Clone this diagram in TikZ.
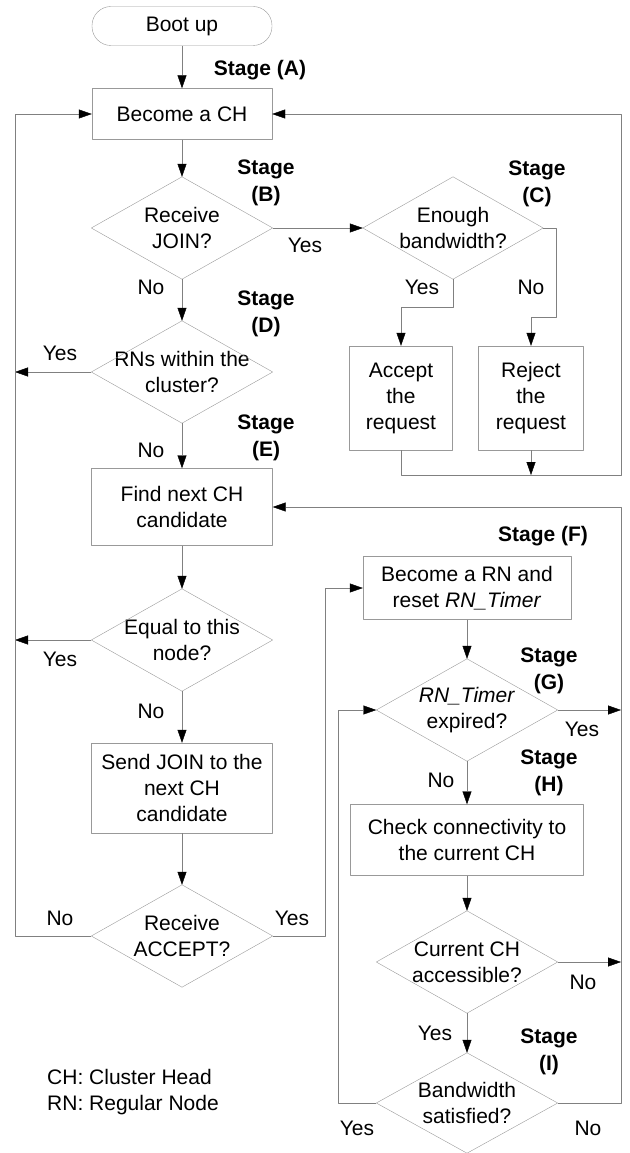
\documentclass[tikz,border=0pt]{standalone}
\usepackage{fontspec}
\setmainfont{Liberation Sans}
\usetikzlibrary{arrows.meta}
\begin{document}
\begin{tikzpicture}[x=1pt,y=-1pt,line join=round,
  every node/.style={font=\fontsize{21}{26}\selectfont,align=center,inner sep=0pt},
  box/.style={draw=black!40},
  dec/.style={minimum width=181,minimum height=102},
  stage/.style={font=\fontsize{21}{27}\selectfont\bfseries},
  line/.style={draw=black!50},
  flow/.style={line,-{Triangle[length=13pt,width=9pt,color=black]}}]
  \useasboundingbox (0,0) rectangle (629,1153);
  % left column
  \node[box,rounded corners=19pt,minimum width=180,minimum height=39] (boot) at (182,26) {Boot up};
  \node[box,minimum width=180,minimum height=51] (ch) at (182,114) {Become a CH};
  \node[dec] (join) at (182,228) {Receive\\JOIN?};
  \node[dec] (rns) at (182,372) {RNs within the\\cluster?};
  \node[box,minimum width=181,minimum height=77] (find) at (182,507) {Find next CH\\candidate};
  \node[dec] (equal) at (182,640) {Equal to this\\node?};
  \node[box,minimum width=181,minimum height=90] (send) at (182,788) {Send JOIN to the\\next CH\\candidate};
  \node[dec] (recv) at (182,936) {Receive\\ACCEPT?};
  % right column
  \node[dec,minimum width=180] (bw) at (453,228) {Enough\\bandwidth?};
  \node[box,minimum width=103,minimum height=104] (acc) at (401,398) {Accept\\the\\request};
  \node[box,minimum width=105,minimum height=104] (rej) at (531,398) {Reject\\the\\request};
  \node[box,minimum width=208,minimum height=63] (rn) at (467,588) {Become a RN and\\reset \textit{RN\_Timer}};
  \node[dec] (timer) at (467,710) {\textit{RN\_Timer}\\expired?};
  \node[box,minimum width=233,minimum height=71] (check) at (467,840) {Check connectivity to\\the current CH};
  \node[dec] (access) at (467,962) {Current CH\\accessible?};
  \node[dec,minimum height=100] (satis) at (467,1103) {Bandwidth\\satisfied?};
  \foreach \d in {join,rns,equal,recv,bw,timer,access,satis}
    \draw[box] (\d.north) -- (\d.east) -- (\d.south) -- (\d.west) -- cycle;
  % stages
  \node[stage] (stA) at (260,70) {Stage (A)};
  \node[stage] (stB) at (266,183) {Stage\\(B)};
  \node[stage] (stC) at (537,184) {Stage\\(C)};
  \node[stage] (stD) at (266,314) {Stage\\(D)};
  \node[stage] (stE) at (266,438) {Stage\\(E)};
  \node[stage] (stF) at (543,536) {Stage (F)};
  \node[stage] (stG) at (549,671) {Stage\\(G)};
  \node[stage] (stH) at (549,773) {Stage\\(H)};
  \node[stage] (stI) at (549,1052) {Stage\\(I)};
  \node[anchor=west,align=left] (legend) at (47,1092) {CH: Cluster Head\\RN: Regular Node};
  % free ends on the loop lines
  \path (15,372) coordinate (lRns)
    (15,640) coordinate (lEqual)
    (621,710) coordinate (rTimer)
    (621,962) coordinate (rAccess)
    (621,475) coordinate (rAcc);
  % connectors
  \draw[flow] (boot) -- (ch);
  \draw[flow] (ch) -- (join);
  \draw[flow] (join) -- (bw);
  \draw[flow] (join) -- (rns);
  \draw[flow] (rns) -- (find);
  \draw[flow] (rns.west) -- (lRns);
  \draw[flow] (find) -- (equal);
  \draw[flow] (equal.west) -- (lEqual);
  \draw[flow] (equal) -- (send);
  \draw[flow] (send) -- (recv);
  \draw[flow] (recv.west) -- (15,936) |- (ch.west);
  \draw[flow] (recv.east) -- (325,936) |- (rn.west);
  \draw[flow] (bw.south) -- (453,307) -| (acc.north);
  \draw[flow] (bw.east) -- (556,228) -- (556,317) -| (rej.north);
  \draw[flow] (acc.south) |- (rAcc) |- (ch.east);
  \draw[flow] (rej.south) -- (rej.south |- rAcc);
  \draw[flow] (satis.east) -- (621,1103) |- (find.east);
  \draw[flow] (rn) -- (timer);
  \draw[flow] (timer.east) -- (rTimer);
  \draw[flow] (timer) -- (check);
  \draw[flow] (check) -- (access);
  \draw[flow] (access.east) -- (rAccess);
  \draw[flow] (access) -- (satis);
  \draw[flow] (satis.west) -- (338,1103) |- (timer.west);
  % yes / no labels
  \foreach \t/\x/\y [count=\i] in {Yes/305/245,No/151/287,Yes/60/353,No/151/450,
      Yes/60/659,No/151/711,No/60/918,Yes/292/918,Yes/422/287,No/531/287,
      Yes/582/729,No/441/780,No/583/982,Yes/435/1033,Yes/357/1128,No/588/1128}
    \node (lbl\i) at (\x,\y) {\t};
\end{tikzpicture}
\end{document}
